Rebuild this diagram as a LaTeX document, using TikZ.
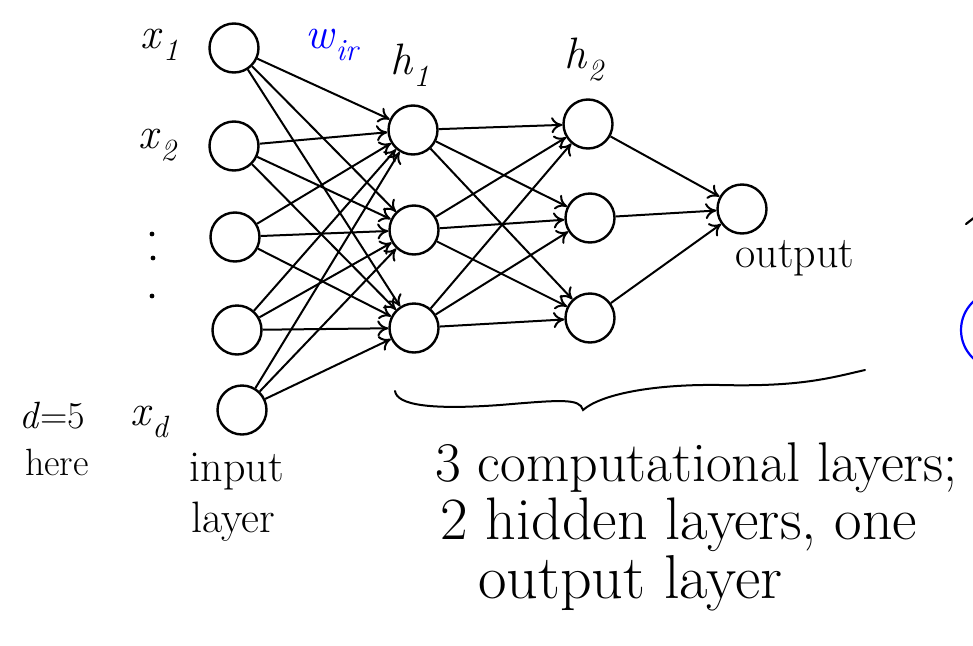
\documentclass[tikz,border=0pt]{standalone}
\usetikzlibrary{arrows.meta}
\newcommand{\vsub}[2]{\textit{#1}\textsubscript{\textit{#2}}}
\begin{document}
\begin{tikzpicture}[x=1pt,y=-1pt,
  neuron/.style={circle,draw,line width=2.4pt,minimum size=49pt,inner sep=0pt},
  conn/.style={line width=2pt,-{To[length=11pt,width=16pt,line width=2pt]}},
  lbl/.style={font=\fontsize{44}{50}\selectfont,inner sep=0pt},
  small/.style={font=\fontsize{38}{44}\selectfont,inner sep=0pt},
  hand/.style={line width=2pt,line cap=round}]
\clip (0,0) rectangle (973,645);
% input layer
\node[neuron] (i1) at (234,48) {};
\node[neuron] (i2) at (234,146) {};
\node[neuron] (i3) at (235,237) {};
\node[neuron] (i4) at (237,330) {};
\node[neuron] (i5) at (242,410) {};
% hidden layer 1
\node[neuron] (a1) at (413,130) {};
\node[neuron] (a2) at (414,230) {};
\node[neuron] (a3) at (414,328) {};
% hidden layer 2
\node[neuron] (b1) at (588,124) {};
\node[neuron] (b2) at (590,218) {};
\node[neuron] (b3) at (590,318) {};
% output
\node[neuron] (o) at (742,209) {};
% connections
\foreach \s in {i1,i2,i3,i4,i5}
  \foreach \t in {a1,a2,a3}
    \draw[conn] (\s) -- (\t);
\foreach \s in {a1,a2,a3}
  \foreach \t in {b1,b2,b3}
    \draw[conn] (\s) -- (\t);
\foreach \s in {b1,b2,b3}
  \draw[conn] (\s) -- (o);
% labels
\node[lbl] (lx1) at (160,45) {\vsub{x}{1}};
\node[lbl] (lx2) at (158,145) {\vsub{x}{2}};
\node[lbl] (lxd) at (150,422) {\vsub{x}{d}};
\fill (152,234) circle (2.4);
\fill (153,258) circle (2.4);
\fill (152,296) circle (2.4);
\node[small] (d5) at (52,416) {\textit{d}=5};
\node[small] (here) at (57,462) {here};
\node[lbl] (inp) at (237,472) {input};
\node[lbl] (lay) at (233,522) {layer};
\node[lbl,text=blue] (w) at (333,45) {\vsub{w}{ir}};
\node[lbl] (h1) at (410,65) {\vsub{h}{1}};
\node[lbl] (h2) at (585,60) {\vsub{h}{2}};
\node[lbl] (outl) at (795,258) {output};
% brace
\draw[hand] (395,391) .. controls (397,405) and (430,410) .. (500,405)
  .. controls (560,400) and (580,398) .. (583,410)
  .. controls (600,395) and (650,384) .. (720,385)
  .. controls (800,387) and (830,378) .. (865,370);
\node[inner sep=0pt,anchor=west,font=\fontsize{56}{60}\selectfont] (t1) at (435,468) {3 computational layers;};
\node[inner sep=0pt,anchor=west,font=\fontsize{60}{60}\selectfont] (t2) at (440,525) {2 hidden layers, one};
\node[inner sep=0pt,anchor=west,font=\fontsize{62}{62}\selectfont] (t3) at (478,583) {output layer};
% cut-off marks at the right edge
\draw[hand,line width=2.2pt] (966,224) -- (975,217);
\draw[blue,line width=2.2pt] (1000,330) circle (39);
\end{tikzpicture}
\end{document}
